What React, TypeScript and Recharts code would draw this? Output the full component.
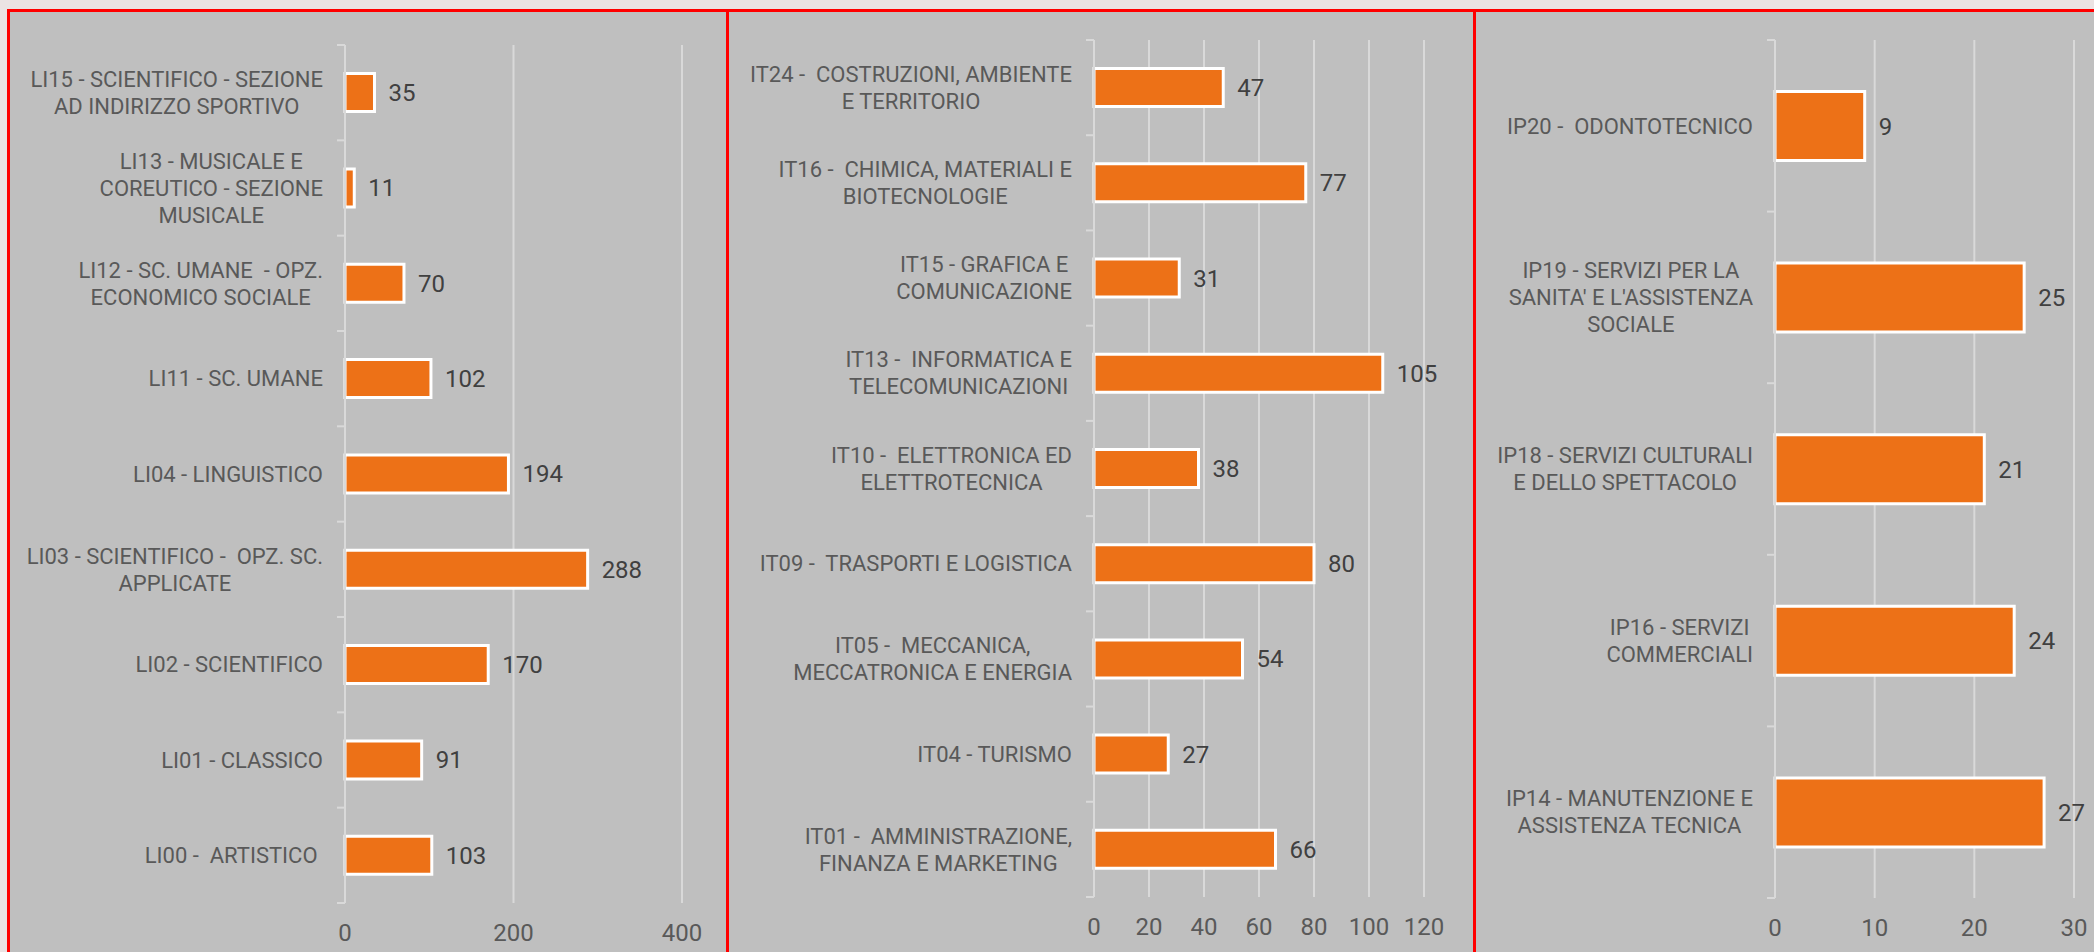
import { BarChart, Bar, XAxis, YAxis, CartesianGrid, LabelList } from 'recharts'

// Licei
const liCategories = [
  'LI15 - SCIENTIFICO - SEZIONE\nAD INDIRIZZO SPORTIVO',
  'LI13 - MUSICALE E\nCOREUTICO - SEZIONE\nMUSICALE',
  'LI12 - SC. UMANE  - OPZ.\nECONOMICO SOCIALE',
  'LI11 - SC. UMANE',
  'LI04 - LINGUISTICO',
  'LI03 - SCIENTIFICO -  OPZ. SC.\nAPPLICATE',
  'LI02 - SCIENTIFICO',
  'LI01 - CLASSICO',
  'LI00 -  ARTISTICO ',
]
const liValues = [35, 11, 70, 102, 194, 288, 170, 91, 103]
const liTicks = [0, 200, 400]

// Tecnici
const itCategories = [
  'IT24 -  COSTRUZIONI, AMBIENTE\nE TERRITORIO',
  'IT16 -  CHIMICA, MATERIALI E\nBIOTECNOLOGIE',
  'IT15 - GRAFICA E\nCOMUNICAZIONE',
  'IT13 -  INFORMATICA E\nTELECOMUNICAZIONI',
  'IT10 -  ELETTRONICA ED\nELETTROTECNICA',
  'IT09 -  TRASPORTI E LOGISTICA',
  'IT05 -  MECCANICA,\nMECCATRONICA E ENERGIA',
  'IT04 - TURISMO',
  'IT01 -  AMMINISTRAZIONE,\nFINANZA E MARKETING',
]
const itValues = [47, 77, 31, 105, 38, 80, 54, 27, 66]
const itTicks = [0, 20, 40, 60, 80, 100, 120]

// Professionali
const ipCategories = [
  'IP20 -  ODONTOTECNICO',
  "IP19 - SERVIZI PER LA\nSANITA' E L'ASSISTENZA\nSOCIALE",
  'IP18 - SERVIZI CULTURALI\nE DELLO SPETTACOLO',
  'IP16 - SERVIZI\nCOMMERCIALI',
  'IP14 - MANUTENZIONE E\nASSISTENZA TECNICA',
]
const ipValues = [9, 25, 21, 24, 27]
const ipTicks = [0, 10, 20, 30]

const FONT = 'Roboto, "Liberation Sans", sans-serif'
const FONT_SIZE = 22
const NUM_SIZE = 24
const LINE_H = 27
const GRID = '#d9d9d9'
const TEXT = '#595959'

let ctx: CanvasRenderingContext2D | null = null
const textWidth = (t: string) => {
  if (!ctx) ctx = document.createElement('canvas').getContext('2d')
  if (!ctx) return t.length * 12
  ctx.font = `${FONT_SIZE}px Roboto`
  return ctx.measureText(t).width
}

const CategoryTick = (props: any) => {
  const { x, y, payload, index, band, count, gap } = props
  const lines = String(payload.value).split('\n')
  const w = Math.max(...lines.map(textWidth))
  const cx = x - w / 2
  const axisX = x + gap
  return (
    <g>
      <line x1={axisX - 8} x2={axisX} y1={y - band / 2} y2={y - band / 2} stroke={GRID} strokeWidth={2} />
      {index === count - 1 && (
        <line x1={axisX - 8} x2={axisX} y1={y + band / 2} y2={y + band / 2} stroke={GRID} strokeWidth={2} />
      )}
      <text
        textAnchor="middle"
        fill={TEXT}
        fontSize={FONT_SIZE}
        fontFamily={FONT}
        xmlSpace="preserve"
        style={{ whiteSpace: 'pre' }}
      >
        {lines.map((l, i) => (
          <tspan key={i} x={cx} y={y + (i - (lines.length - 1) / 2) * LINE_H} dy="0.35em">
            {l}
          </tspan>
        ))}
      </text>
    </g>
  )
}

type PanelProps = {
  categories: string[]
  values: number[]
  ticks: number[]
  left: number
  width: number
  yWidth: number
  margin: { top: number; right: number; bottom: number; left: number }
}

const Panel = ({ categories, values, ticks, left, width, yWidth, margin }: PanelProps) => {
  const height = 940
  const data = categories.map((name, i) => ({ name, value: values[i] }))
  const plotH = height - margin.top - margin.bottom - 30
  const band = plotH / categories.length
  return (
    <div style={{ position: 'absolute', left, top: 12, width, height }}>
      <BarChart
        width={width}
        height={height}
        data={data}
        layout="vertical"
        margin={margin}
        barCategoryGap="30%"
      >
        <CartesianGrid horizontal={false} stroke={GRID} strokeWidth={2} />
        <XAxis
          type="number"
          domain={[0, ticks[ticks.length - 1]]}
          ticks={ticks}
          axisLine={false}
          tickLine={false}
          tickSize={0}
          tickMargin={21}
          height={30}
          tick={{ fill: TEXT, fontSize: NUM_SIZE, fontFamily: FONT }}
        />
        <YAxis
          type="category"
          dataKey="name"
          width={yWidth}
          interval={0}
          axisLine={{ stroke: GRID, strokeWidth: 2 }}
          tickLine={false}
          tickSize={0}
          tickMargin={22}
          tick={(p: any) => (
            <CategoryTick {...p} band={band} count={categories.length} gap={22} />
          )}
        />
        <Bar
          dataKey="value"
          fill="#ED7117"
          stroke="#ffffff"
          strokeWidth={3}
          isAnimationActive={false}
        >
          <LabelList
            dataKey="value"
            position="right"
            offset={14}
            fill="#404040"
            fontSize={NUM_SIZE}
            fontFamily={FONT}
          />
        </Bar>
      </BarChart>
    </div>
  )
}

const panelBox = (left: number, width: number): React.CSSProperties => ({
  position: 'absolute',
  left,
  top: 9,
  width,
  height: 960,
  border: '3px solid #ff0000',
  boxSizing: 'border-box',
  background: '#bfbfbf',
})

export default function App() {
  return (
    <div
      style={{
        position: 'absolute',
        left: 0,
        top: 0,
        width: 2094,
        height: 952,
        overflow: 'hidden',
        background: '#ebe3e3',
        fontFamily: FONT,
      }}
    >
      <div style={panelBox(7, 722)} />
      <div style={panelBox(726, 750)} />
      <div style={panelBox(1473, 640)} />
      <Panel
        categories={liCategories}
        values={liValues}
        ticks={liTicks}
        left={10}
        width={716}
        yWidth={335}
        margin={{ top: 33, right: 44, bottom: 19, left: 0 }}
      />
      <Panel
        categories={itCategories}
        values={itValues}
        ticks={itTicks}
        left={729}
        width={744}
        yWidth={365}
        margin={{ top: 28, right: 49, bottom: 25, left: 0 }}
      />
      <Panel
        categories={ipCategories}
        values={ipValues}
        ticks={ipTicks}
        left={1476}
        width={618}
        yWidth={299}
        margin={{ top: 28, right: 20, bottom: 24, left: 0 }}
      />
    </div>
  )
}
